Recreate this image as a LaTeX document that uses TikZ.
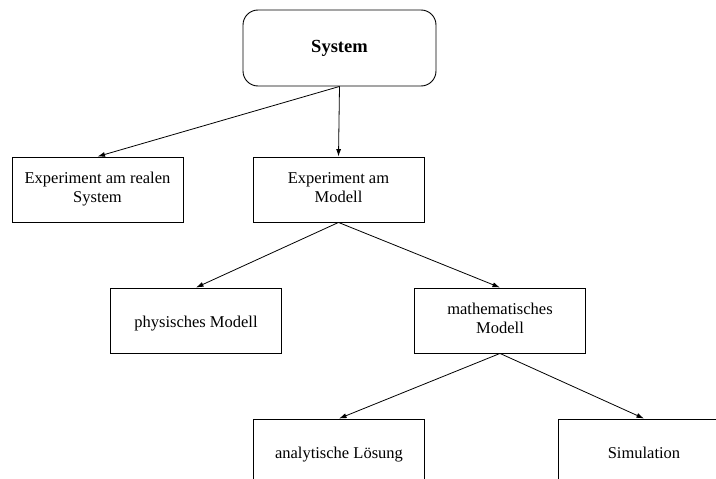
\documentclass[tikz,border=0pt]{standalone}
\usepackage{fontspec}
\setmainfont{Liberation Serif}
\usetikzlibrary{arrows.meta}
% fixed line height and depth so every box sets its text on the same baseline
\newcommand{\toprl}{\rule{0pt}{18pt}}
\newcommand{\botrl}{\rule[-4pt]{0pt}{4pt}}
\begin{document}
\begin{tikzpicture}[x=1pt,y=-1pt,
  box/.style={draw, line width=0.9pt, rectangle, minimum width=171pt,
    minimum height=65pt, align=center, inner sep=0pt,
    font=\fontsize{16.5}{19}\selectfont,
    execute at begin node=\toprl, execute at end node=\botrl},
  topbox/.style={draw, line width=0.9pt, rounded corners=15pt,
    minimum width=193pt, minimum height=76pt, inner sep=0pt,
    font=\fontsize{18.5}{22}\selectfont\bfseries},
  link/.style={-{Latex[length=7.5pt,width=5pt]}, line width=0.8pt}]
\useasboundingbox (0,0) rectangle (716,479);
\clip (0,0) rectangle (716,479);

% root
\node[topbox] (sys) at (339.5,48) {System};

% first level
\node[box] (real) at (97.5,189.5) {Experiment am realen\\System};
\node[box] (model) at (338.5,189.5) {Experiment am\\Modell};

% second level
\node[box] (phys) at (196,320.5) {physisches Modell};
\node[box] (math) at (500,320.5) {mathematisches\\Modell};

% third level (runs past the page edges)
\node[box] (anal) at (339,451.5) {analytische Lösung};
\node[box] (sim) at (644,451.5) {Simulation};

% connectors
\draw[link] (sys.south) -- (real.north);
\draw[link] (sys.south) -- (model.north);
\draw[link] (model.south) -- (phys.north);
\draw[link] (model.south) -- (math.north);
\draw[link] (math.south) -- (anal.north);
\draw[link] (math.south) -- (sim.north);
\end{tikzpicture}
\end{document}
